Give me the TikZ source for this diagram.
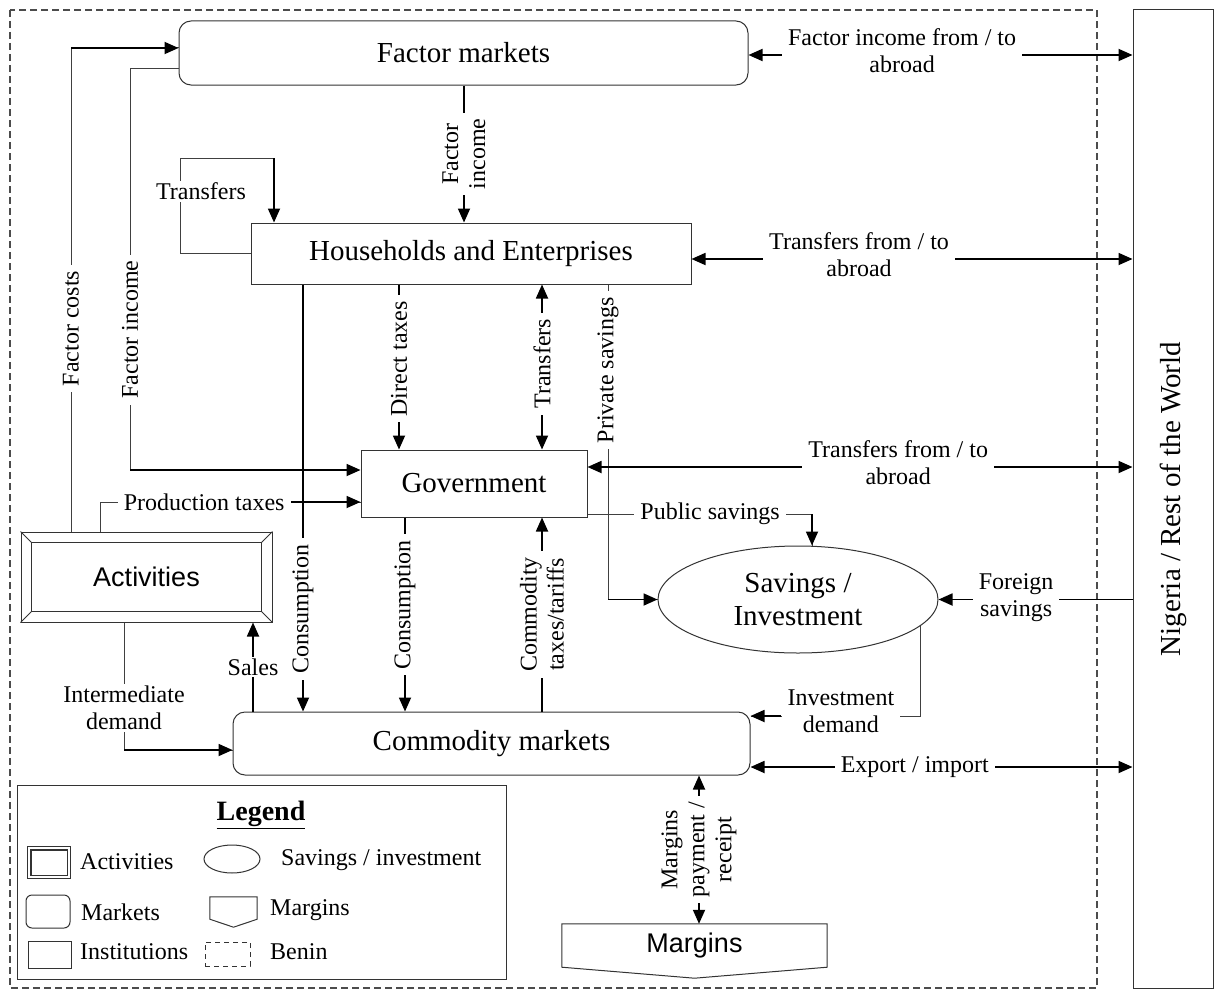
\documentclass[tikz,border=0pt]{standalone}
\usepackage{fontspec}
\setmainfont{Liberation Serif}
\setsansfont{Liberation Sans}
\usetikzlibrary{arrows.meta,shapes.geometric,positioning}

\tikzset{
  shapeline/.style={draw=black!80, line width=1pt},
  box/.style={shapeline, inner sep=0pt, align=center, font=\fontsize{29}{33}\selectfont},
  market/.style={box, rounded corners=12pt},
  link/.style={draw=black!75, line width=1pt},
  flow/.style={line width=1.8pt, -{Triangle[length=14pt,width=12pt]}},
  twoway/.style={line width=1.8pt, {Triangle[length=14pt,width=12pt]}-{Triangle[length=14pt,width=12pt]}},
  lbl/.style={fill=white, inner xsep=6pt, inner ysep=2pt, align=center, font=\fontsize{24}{27}\selectfont},
  leg/.style={anchor=west, inner sep=0pt, font=\fontsize{24}{27}\selectfont},
}

\begin{document}
\begin{tikzpicture}[x=1pt, y=-1pt]
  \useasboundingbox (0,0) rectangle (1215,990);
  \foreach \n/\v in {fc/71, fi/130, pt/100, id/124, sl/253, hc/303, dt/399, gc/405, tr/542, ps/608, pu/812, fx/464, tl/180, ta/274, mp/699}
    \coordinate (x\n) at (\v,0);
  \foreach \n/\v in {fc/48, fi/69, fg/470, pt/502, tl/158, pu/514, id/750, iv/716, fa/55, ht/259, gt/467, ex/767}
    \coordinate (y\n) at (0,\v);

  \draw[black!70, line width=1.2pt, dash pattern=on 7pt off 4pt] (10,10) rectangle (1097,988);
  \node[shapeline, minimum width=80, minimum height=978, inner sep=0pt] (row) at (1173,499) {};
  \node[rotate=90, font=\fontsize{29}{33}\selectfont] (rowtxt) at (row.center) {Nigeria / Rest of the World};

  \node[market, minimum width=569, minimum height=64] (fm) at (463.5,53) {Factor markets};
  \node[box, minimum width=440, minimum height=61] (hh) at (471,253.5) {Households and Enterprises};
  \node[box, minimum width=226, minimum height=67] (gov) at (474,483.5) {Government};
  \node[market, minimum width=517, minimum height=63] (cm) at (491.5,743.5) {Commodity markets};
  \node[box, ellipse, minimum width=280, minimum height=107] (si) at (798,599.5) {Savings /\\Investment};
  \node[box, font=\sffamily\fontsize{27}{31}\selectfont, minimum width=251, minimum height=90] (act) at (146.5,577) {Activities};
  \draw[shapeline] ([xshift=11pt,yshift=-11pt]act.north west) rectangle ([xshift=-11pt,yshift=11pt]act.south east);
  \foreach \c/\dx/\dy in {north west/11/-11, north east/-11/-11, south west/11/11, south east/-11/11}
    \draw[shapeline] (act.\c) -- ([xshift=\dx pt,yshift=\dy pt]act.\c);
  \node[inner sep=0pt, minimum width=265, minimum height=43, font=\sffamily\fontsize{27}{31}\selectfont] (mg) at (694.5,945.5) {Margins};
  \draw[shapeline] (mg.south west) -- (mg.north west) -- (mg.north east) -- (mg.south east) -- ([yshift=-11pt]mg.south) -- cycle;

  \draw[link] (xfc |- act.north) |- (fm.west |- yfc) node[lbl, rotate=90, pos=0.21] {Factor costs};
  \draw[flow] (xfc |- yfc) -- (fm.west |- yfc);
  \draw[link] (fm.west |- yfi) -| (xfi |- yfg) node[lbl, rotate=90, pos=0.825] {Factor income};
  \draw[flow] (xfi |- yfg) -- (gov.west |- yfg);
  \draw[flow] (xfx |- fm.south) -- (xfx |- hh.north) node[lbl, rotate=90, midway] {Factor\\income};
  \draw[link] (hh.west) -| (xtl |- ytl) node[lbl, pos=0.825, xshift=21pt] {Transfers} -- (xta |- ytl);
  \draw[flow] (xta |- ytl) -- (xta |- hh.north);
  \draw[link] (xpt |- act.north) |- (gov.west |- ypt) node[lbl, pos=0.7] (ptl) {Production taxes};
  \draw[flow] (ptl.east |- ypt) -- (gov.west |- ypt);
  \draw[link] (xid |- act.south) |- (cm.west |- yid) node[lbl, pos=0.336] {Intermediate\\demand};
  \draw[flow] (xid |- yid) -- (cm.west |- yid);
  \draw[flow] (xsl |- cm.north) -- (xsl |- act.south) node[lbl, midway] {Sales};

  \draw[flow] (xhc |- hh.south) -- (xhc |- cm.north) node[lbl, rotate=90, pos=0.76] {Consumption};
  \draw[flow] (xdt |- hh.south) -- (xdt |- gov.north) node[lbl, rotate=90, pos=0.45] {Direct taxes};
  \draw[twoway] (xtr |- hh.south) -- (xtr |- gov.north) node[lbl, rotate=90, pos=0.48] {Transfers};
  \draw[link] (xps |- hh.south) |- (si.west) node[lbl, rotate=90, pos=0.136] {Private savings};
  \draw[flow] (xps |- si.west) -- (si.west);
  \draw[link] (gov.east |- ypu) -| (xpu |- si.north) node[lbl, pos=0.273] {Public savings};
  \draw[flow] (xpu |- ypu) -- (xpu |- si.north);
  \draw[flow] (xgc |- gov.south) -- (xgc |- cm.north) node[lbl, rotate=90, pos=0.45] {Consumption};
  \draw[flow] (xtr |- cm.north) -- (xtr |- gov.south) node[lbl, rotate=90, midway] {Commodity\\taxes/tariffs};
  \draw[link] (si.-12) |- (cm.east |- yiv) node[lbl, pos=0.735, yshift=5pt] (ivl) {Investment\\demand};
  \draw[flow] (ivl.west |- yiv) -- (cm.east |- yiv);
  \draw[twoway] (xmp |- cm.south) -- (xmp |- mg.north) node[lbl, rotate=90, midway] {Margins\\payment /\\receipt};

  \draw[twoway] (fm.east |- yfa) -- (row.west |- yfa) node[lbl, pos=0.4, yshift=4pt] {Factor income from / to\\abroad};
  \draw[twoway] (hh.east |- yht) -- (row.west |- yht) node[lbl, pos=0.38, yshift=4pt] {Transfers from / to\\abroad};
  \draw[twoway] (gov.east |- ygt) -- (row.west |- ygt) node[lbl, pos=0.57, yshift=4pt] {Transfers from / to\\abroad};
  \draw[flow] (row.west |- si.east) -- (si.east) node[lbl, pos=0.6, yshift=2pt] {Foreign\\savings};
  \draw[twoway] (cm.east |- yex) -- (row.west |- yex) node[lbl, pos=0.43] {Export / import};

  \node[shapeline, minimum width=489, minimum height=194, inner sep=0pt] (legend) at (261.5,882) {};
  \node[font=\bfseries\fontsize{28}{32}\selectfont] (legtitle) at (261,815) {\underline{Legend}};
  \node[shapeline, line width=1.5pt, minimum width=43, minimum height=32, inner sep=0pt] (lgact) at (49,862.5) {};
  \draw[shapeline, line width=1.5pt] ([xshift=4pt,yshift=-4pt]lgact.north west) rectangle ([xshift=-4pt,yshift=4pt]lgact.south east);
  \node[leg] (lgacttxt) at (80,862) {Activities};
  \node[shapeline, ellipse, minimum width=56, minimum height=28, inner sep=0pt] (lgsi) at (232,859) {};
  \node[leg] (lgsitxt) at (281,860) {Savings / investment};
  \node[shapeline, rounded corners=6pt, minimum width=44, minimum height=33, inner sep=0pt] (lgmk) at (48,911.5) {};
  \node[leg] (lgmktxt) at (81,912) {Markets};
  \node[minimum width=47, minimum height=22, inner sep=0pt] (lgmg) at (233.5,908) {};
  \draw[shapeline] (lgmg.south west) -- (lgmg.north west) -- (lgmg.north east) -- (lgmg.south east) -- ([yshift=-8pt]lgmg.south) -- cycle;
  \node[leg] (lgmgtxt) at (270,910) {Margins};
  \node[shapeline, minimum width=43, minimum height=27, inner sep=0pt] (lgin) at (50,954.5) {};
  \node[leg] (lgintxt) at (80,952) {Institutions};
  \node[shapeline, dash pattern=on 5pt off 4pt, minimum width=45, minimum height=24, inner sep=0pt] (lgbn) at (227.5,954) {};
  \node[leg] (lgbntxt) at (270,952) {Benin};
\end{tikzpicture}
\end{document}
